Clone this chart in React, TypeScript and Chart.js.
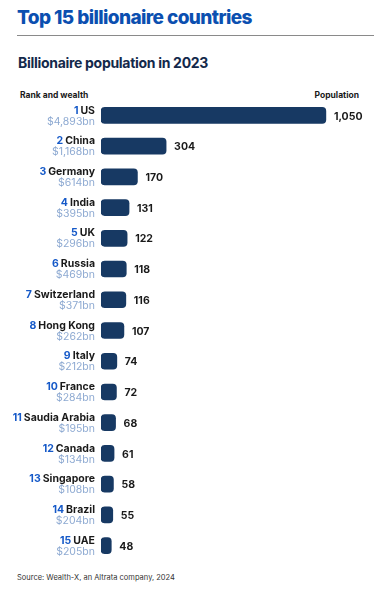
import React, { useEffect, useRef } from "react";
import { Chart, registerables } from "chart.js";
Chart.register(...registerables);

const ranks = ["1","2","3","4","5","6","7","8","9","10","11","12","13","14","15"];
const countries = ["US","China","Germany","India","UK","Russia","Switzerland","Hong Kong","Italy","France","Saudia Arabia","Canada","Singapore","Brazil","UAE"];
const wealth = ["$4,893bn","$1,168bn","$614bn","$395bn","$296bn","$469bn","$371bn","$262bn","$212bn","$284bn","$195bn","$134bn","$108bn","$204bn","$205bn"];
const population = [1050,304,170,131,122,118,116,107,74,72,68,61,58,55,48];

const FONT = "Inter, 'Noto Sans', sans-serif";

export default function App() {
  const ref = useRef<HTMLCanvasElement>(null);
  useEffect(() => {
    document.body.style.margin = "0";
    const labelsPlugin = {
      id: "rowLabels",
      afterDraw(chart: any) {
        const ctx = chart.ctx;
        const y = chart.scales.y;
        const meta = chart.getDatasetMeta(0);
        ctx.save();
        countries.forEach((c, i) => {
          const cy = y.getPixelForValue(i);
          const xr = 95;
          ctx.textBaseline = "middle";
          ctx.textAlign = "right";
          ctx.font = `bold 10.5px ${FONT}`;
          ctx.fillStyle = "#1a1a1a";
          ctx.fillText(c, xr, cy - 5);
          const w = ctx.measureText(c).width;
          ctx.fillStyle = "#1559c8";
          ctx.fillText(ranks[i], xr - w - 2, cy - 5);
          ctx.font = `10.5px ${FONT}`;
          ctx.fillStyle = "#8eaad2";
          ctx.fillText(wealth[i], xr, cy + 6);
          // value label
          const bar = meta.data[i];
          ctx.textAlign = "left";
          ctx.font = `bold 10.5px ${FONT}`;
          ctx.fillStyle = "#1a1a1a";
          ctx.fillText(population[i].toLocaleString("en-US"), bar.x + 8, cy + 1);
        });
        ctx.restore();
      },
    };
    const chart = new Chart(ref.current!, {
      type: "bar",
      data: {
        labels: countries,
        datasets: [{
          data: population,
          backgroundColor: "#173963",
          borderRadius: 4,
          borderSkipped: false,
          barThickness: 16,
        }],
      },
      options: {
        indexAxis: "y",
        animation: false,
        responsive: false,
        maintainAspectRatio: false,
        layout: { padding: { left: 101, right: 16, top: 0, bottom: 0 } },
        scales: {
          x: { display: false, min: 0, max: 1200 },
          y: { display: false },
        },
        plugins: { legend: { display: false }, tooltip: { enabled: false } },
      },
      plugins: [labelsPlugin],
    });
    return () => chart.destroy();
  }, []);

  return (
    <div style={{ position: "relative", width: 374, height: 598, fontFamily: FONT, background: "#fff", overflow: "hidden" }}>
      <div style={{ position: "absolute", left: 17, top: 6, fontSize: 19, fontWeight: 800, color: "#0b4fb0", letterSpacing: -0.6, whiteSpace: "nowrap" }}>
        Top 15 billionaire countries
      </div>
      <div style={{ position: "absolute", left: 17, right: 0, top: 35, height: 1, background: "#8a8a8a" }} />
      <div style={{ position: "absolute", left: 18, top: 54, fontSize: 14, fontWeight: 700, color: "#13294b", letterSpacing: -0.3, whiteSpace: "nowrap" }}>
        Billionaire population in 2023
      </div>
      <div style={{ position: "absolute", left: 20, top: 90, fontSize: 8.5, fontWeight: 700, color: "#1a1a1a", whiteSpace: "nowrap" }}>
        Rank and wealth
      </div>
      <div style={{ position: "absolute", right: 15, top: 90, fontSize: 8.5, fontWeight: 700, color: "#1a1a1a", whiteSpace: "nowrap" }}>
        Population
      </div>
      <canvas ref={ref} width={374} height={461} style={{ position: "absolute", left: 0, top: 100, width: 374, height: 461 }} />
      <div style={{ position: "absolute", left: 17, top: 573, fontSize: 7.5, color: "#333", whiteSpace: "nowrap" }}>
        Source: Wealth-X, an Altrata company, 2024
      </div>
    </div>
  );
}
